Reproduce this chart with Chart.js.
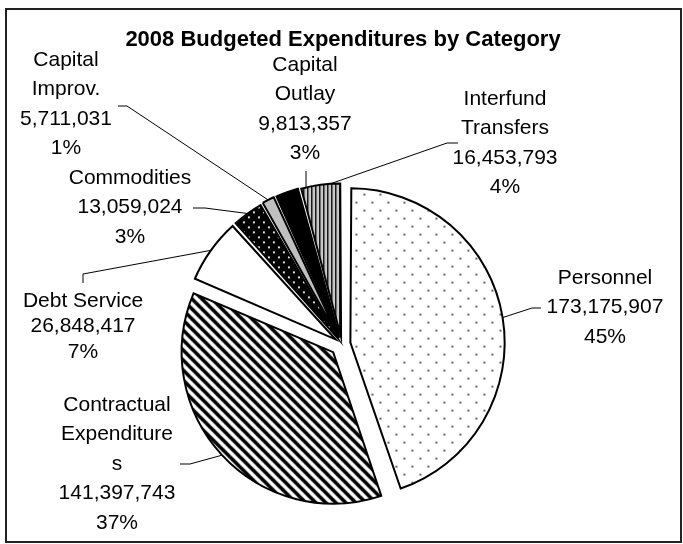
<!DOCTYPE html>
<html>
<head>
<meta charset="utf-8">
<script src="https://cdn.jsdelivr.net/npm/chart.js@4.4.1/dist/chart.umd.min.js"></script>
<style>
  html, body { margin: 0; padding: 0; background: #fff; }
  canvas { display: block; }
</style>
</head>
<body>
<canvas id="budgetChart" width="683" height="544"></canvas>
<script>
const chartTitle = '2008 Budgeted Expenditures by Category';
const categories = ['Personnel', 'Contractual Expenditures', 'Debt Service', 'Commodities', 'Capital Improv.', 'Capital Outlay', 'Interfund Transfers'];
// how each category name wraps inside its data label
const labelLines = [['Personnel'], ['Contractual', 'Expenditure', 's'], ['Debt Service'], ['Commodities'], ['Capital', 'Improv.'], ['Capital', 'Outlay'], ['Interfund', 'Transfers']];
const amounts = [173175907, 141397743, 26848417, 13059024, 5711031, 9813357, 16453793];

// label placement (centre x, centre y of first line, line step) and leader lines
const labelBoxes = [
    { x: 605, y: 278, step: 29.5 },
    { x: 117, y: 405, step: 29.5 },
    { x: 83, y: 301, step: 25.5 },
    { x: 130, y: 178, step: 29.5 },
    { x: 66, y: 60, step: 29.5 },
    { x: 305, y: 65, step: 29.5 },
    { x: 505, y: 99, step: 29.5 }
];
const leaderLines = [
    { from: [541, 308], elbow: [532, 308] },
    { from: [180, 464], elbow: [190, 464] },
    { from: [83, 283], elbow: [83, 274] },
    { from: [193, 208], elbow: [205, 208] },
    { from: [118, 106], elbow: [127, 106] },
    { from: [306, 171], vertical: 6 },
    { from: [458, 143], elbow: [447, 143], angle: 356 }
];
const explode = [34, 48, 32, 28, 28, 28, 28];

const canvas = document.getElementById('budgetChart');
const ctx = canvas.getContext('2d');

function tile(w, h, paint) {
    const c = document.createElement('canvas');
    c.width = w;
    c.height = h;
    paint(c.getContext('2d'), w, h);
    return ctx.createPattern(c, 'repeat');
}

const fills = [
    tile(16, 16, (g, w, h) => {
        g.fillStyle = '#fff'; g.fillRect(0, 0, w, h);
        g.fillStyle = '#666';
        g.fillRect(3, 3, 2, 2);
        g.fillRect(11, 11, 2, 2);
    }),
    tile(10, 10, (g, w, h) => {
        g.fillStyle = '#fff'; g.fillRect(0, 0, w, h);
        g.strokeStyle = '#000'; g.lineWidth = 3.6;
        [-10, 0, 10].forEach(k => {
            g.beginPath(); g.moveTo(k - 3, -3); g.lineTo(k + 13, 13); g.stroke();
        });
    }),
    '#ffffff',
    tile(10, 10, (g, w, h) => {
        g.fillStyle = '#000'; g.fillRect(0, 0, w, h);
        g.fillStyle = '#ddd';
        g.fillRect(2, 2, 2, 2);
        g.fillRect(7, 7, 2, 2);
    }),
    '#c0c0c0',
    '#000000',
    tile(4, 4, (g, w, h) => {
        g.fillStyle = '#fff'; g.fillRect(0, 0, w, h);
        g.fillStyle = '#000'; g.fillRect(0, 0, 1.5, h);
        g.fillStyle = '#999'; g.fillRect(2.5, 0, 1, h);
    })
];

// apex and radius of a slice as Chart.js draws it (offset moves it out by offset/4)
function sliceGeom(el) {
    const p = el.getProps(['x', 'y', 'startAngle', 'endAngle', 'outerRadius', 'circumference'], true);
    const t = (el.options.offset || 0) / 4;
    const mid = (p.startAngle + p.endAngle) / 2;
    const fix = 1 - Math.sin(Math.min(Math.PI, p.circumference));
    return { cx: p.x + Math.cos(mid) * t, cy: p.y + Math.sin(mid) * t, r: p.outerRadius + t * fix, mid: mid };
}

function arcPoint(el, deg) {
    const s = sliceGeom(el);
    const a = deg == null ? s.mid : (deg - 90) * Math.PI / 180;
    return [s.cx + Math.cos(a) * s.r, s.cy + Math.sin(a) * s.r];
}

const labelPlugin = {
    id: 'labels',
    afterDraw(chart) {
        const c = chart.ctx;
        const meta = chart.getDatasetMeta(0);
        const total = amounts.reduce((a, b) => a + b, 0);
        c.save();

        c.strokeStyle = '#222';
        c.lineWidth = 2;
        c.strokeRect(6, 9, 675, 533);

        c.fillStyle = '#000';
        c.textAlign = 'center';
        c.textBaseline = 'middle';
        c.font = 'bold 22px "Liberation Sans", Arial, sans-serif';
        c.fillText(chartTitle, 343, 40);

        c.font = '21px "Liberation Sans", Arial, sans-serif';
        amounts.forEach((v, i) => {
            const box = labelBoxes[i];
            const lines = labelLines[i].concat([v.toLocaleString('en-US'), Math.round(v / total * 100) + '%']);
            lines.forEach((txt, j) => {
                c.fillText(txt, box.x, box.y + j * box.step);
            });
        });

        c.strokeStyle = '#000';
        c.lineWidth = 1;
        leaderLines.forEach((ln, i) => {
            c.beginPath();
            c.moveTo(ln.from[0], ln.from[1]);
            if (ln.vertical != null) {
                const s = sliceGeom(meta.data[ln.vertical]);
                const dx = ln.from[0] - s.cx;
                c.lineTo(ln.from[0], s.cy - Math.sqrt(s.r * s.r - dx * dx));
            } else {
                c.lineTo(ln.elbow[0], ln.elbow[1]);
                const p = arcPoint(meta.data[i], ln.angle);
                c.lineTo(p[0], p[1]);
            }
            c.stroke();
        });
        c.restore();
    }
};

new Chart(ctx, {
    type: 'pie',
    data: {
        labels: categories,
        datasets: [{
            data: amounts,
            backgroundColor: fills,
            borderColor: '#000',
            borderWidth: 2,
            borderJoinStyle: 'miter',
            offset: explode
        }]
    },
    options: {
        responsive: false,
        animation: false,
        events: [],
        radius: 148.5,
        layout: { padding: { left: 1, right: 0, top: 144, bottom: 0 } },
        plugins: {
            legend: { display: false },
            tooltip: { enabled: false },
            title: { display: false }
        }
    },
    plugins: [labelPlugin]
});
</script>
</body>
</html>
